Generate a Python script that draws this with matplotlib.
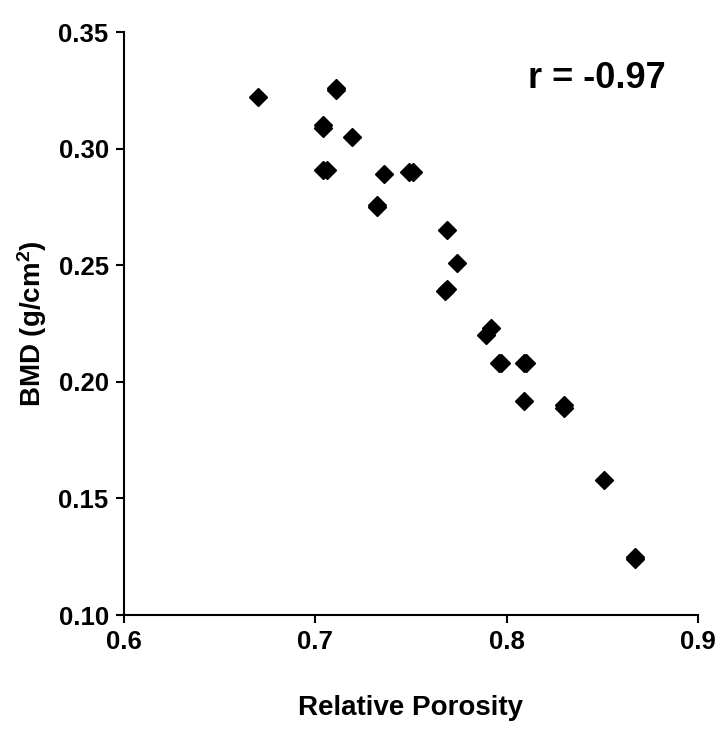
import matplotlib

matplotlib.use("Agg")
import matplotlib.pyplot as plt

plt.rcParams.update({
    "font.family": "Liberation Sans",
    "font.weight": "bold",
    "axes.labelweight": "bold",
    "mathtext.fontset": "custom",
    "mathtext.rm": "Liberation Sans:bold",
    "mathtext.it": "Liberation Sans:bold",
    "mathtext.bf": "Liberation Sans:bold",
})

# relative porosity vs bone mineral density
porosity = [0.670, 0.711, 0.711, 0.704, 0.704, 0.719, 0.704, 0.706, 0.736,
            0.749, 0.751, 0.732, 0.732, 0.769, 0.774, 0.768, 0.769, 0.792,
            0.789, 0.796, 0.797, 0.809, 0.810, 0.809, 0.830, 0.830, 0.851,
            0.867, 0.867]
bmd = [0.322, 0.326, 0.325, 0.310, 0.309, 0.305, 0.291, 0.291, 0.289,
       0.290, 0.290, 0.276, 0.275, 0.265, 0.251, 0.239, 0.240, 0.223,
       0.220, 0.208, 0.208, 0.208, 0.208, 0.192, 0.190, 0.189, 0.158,
       0.125, 0.124]
x_ticks = [0.6, 0.7, 0.8, 0.9]
y_ticks = [0.10, 0.15, 0.20, 0.25, 0.30, 0.35]
r_value = -0.97

fig = plt.figure(figsize=(7.26, 7.30), dpi=100)
ax = fig.add_axes([0.1708, 0.1575, 0.7906, 0.7985])

ax.plot(porosity, bmd, linestyle="none", marker="D", ms=9, color="black")

ax.set_xlim(x_ticks[0], x_ticks[-1])
ax.set_ylim(y_ticks[0], y_ticks[-1])
ax.set_xticks(x_ticks)
ax.set_xticklabels([f"{v:.1f}" for v in x_ticks])
ax.set_yticks(y_ticks)
ax.set_yticklabels([f"{v:.2f}" for v in y_ticks])

for side in ("top", "right"):
    ax.spines[side].set_visible(False)
for side in ("left", "bottom"):
    ax.spines[side].set_linewidth(1.5)
ax.tick_params(axis="both", direction="out", length=6, width=1.5,
               labelsize=18.5)
ax.tick_params(axis="y", pad=5)
ax.tick_params(axis="x", pad=5)

ax.set_xlabel("Relative Porosity", fontsize=20, labelpad=29)
ax.set_ylabel("BMD (g/cm$^2$)", fontsize=20, labelpad=7)

ax.text(0.943, 0.95, f"r = {r_value:.2f}",
        transform=ax.transAxes, ha="right", va="top", fontsize=26)

fig.savefig("out.png", dpi=100)
